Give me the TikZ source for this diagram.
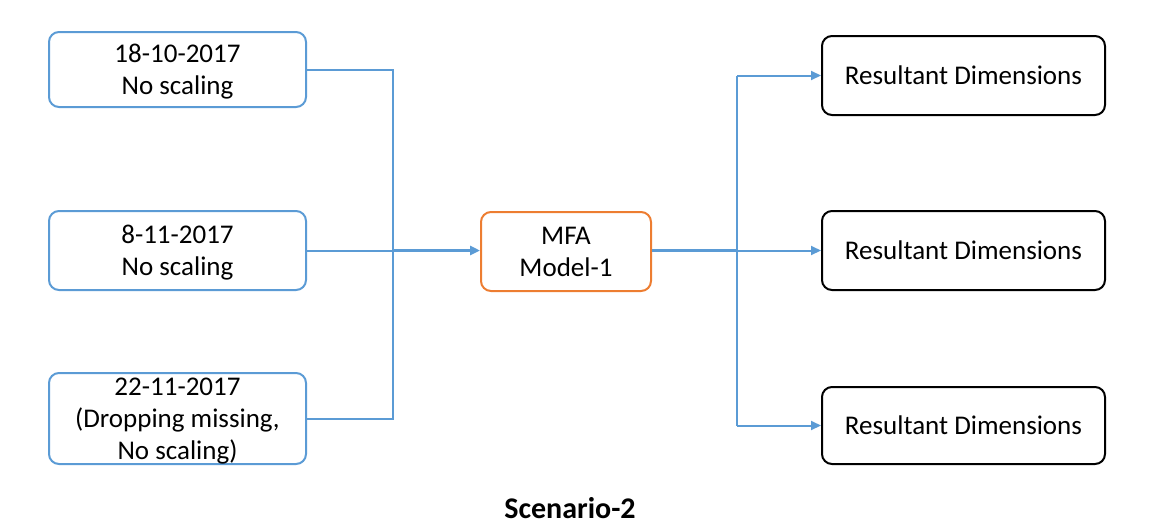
\documentclass[tikz,border=0pt]{standalone}
\usepackage{fontspec}
\setmainfont{Carlito}
\usetikzlibrary{arrows.meta}
\definecolor{lblue}{RGB}{91,155,213}
\definecolor{lorange}{RGB}{237,125,49}
\begin{document}
\begin{tikzpicture}[x=1pt,y=-1pt,
  box/.style={draw=lblue,line width=2pt,rounded corners=10pt,align=center,inner sep=0pt,
    font=\fontsize{27}{32}\selectfont},
  link/.style={draw=lblue,line width=2pt},
  arr/.style={link,-{Triangle[length=10pt,width=9pt]}}]
\useasboundingbox (0,0) rectangle (1158,530);
\node[box,text depth=0pt,minimum width=257pt,minimum height=75pt] (a) at (177.5,69.5) {18-10-2017\\No scaling};
\node[box,text depth=0pt,minimum width=257pt,minimum height=79pt] (b) at (177.5,250.5) {8-11-2017\\No scaling};
\node[box,text depth=0pt,minimum width=257pt,minimum height=91pt] (c) at (177.5,418.5) {22-11-2017\\(Dropping missing,\\No scaling)};
\node[box,draw=lorange,minimum width=170pt,minimum height=79pt] (m) at (566,251.5) {MFA\\Model-1};
\node[box,draw=black,minimum width=283pt,minimum height=79pt] (r1) at (963.5,75.5) {Resultant Dimensions};
\node[box,draw=black,minimum width=283pt,minimum height=79pt] (r2) at (963.5,250.5) {Resultant Dimensions};
\node[box,draw=black,minimum width=283pt,minimum height=77pt] (r3) at (963.5,425.5) {Resultant Dimensions};
\node[font=\fontsize{30}{34}\selectfont\bfseries] (t) at (570,508) {Scenario-2};
\coordinate (jl) at (393,250.5);
\coordinate (jr) at (737,250.5);
\draw[link] (a.east) -- (a.east -| jl) -- (c.east -| jl) -- (c.east);
\draw[link] (b.east) -- (jl);
\draw[arr,line width=3pt] (jl) -- (jl -| m.west);
\draw[link,line width=3pt] (jr -| m.east) -- (jr);
\draw[arr] (r1.west -| jr) -- (r1.west);
\draw[arr] (jr) -- (r2.west);
\draw[arr] (r3.west -| jr) -- (r3.west);
\draw[link] (r1.west -| jr) -- (r3.west -| jr);
\end{tikzpicture}
\end{document}
